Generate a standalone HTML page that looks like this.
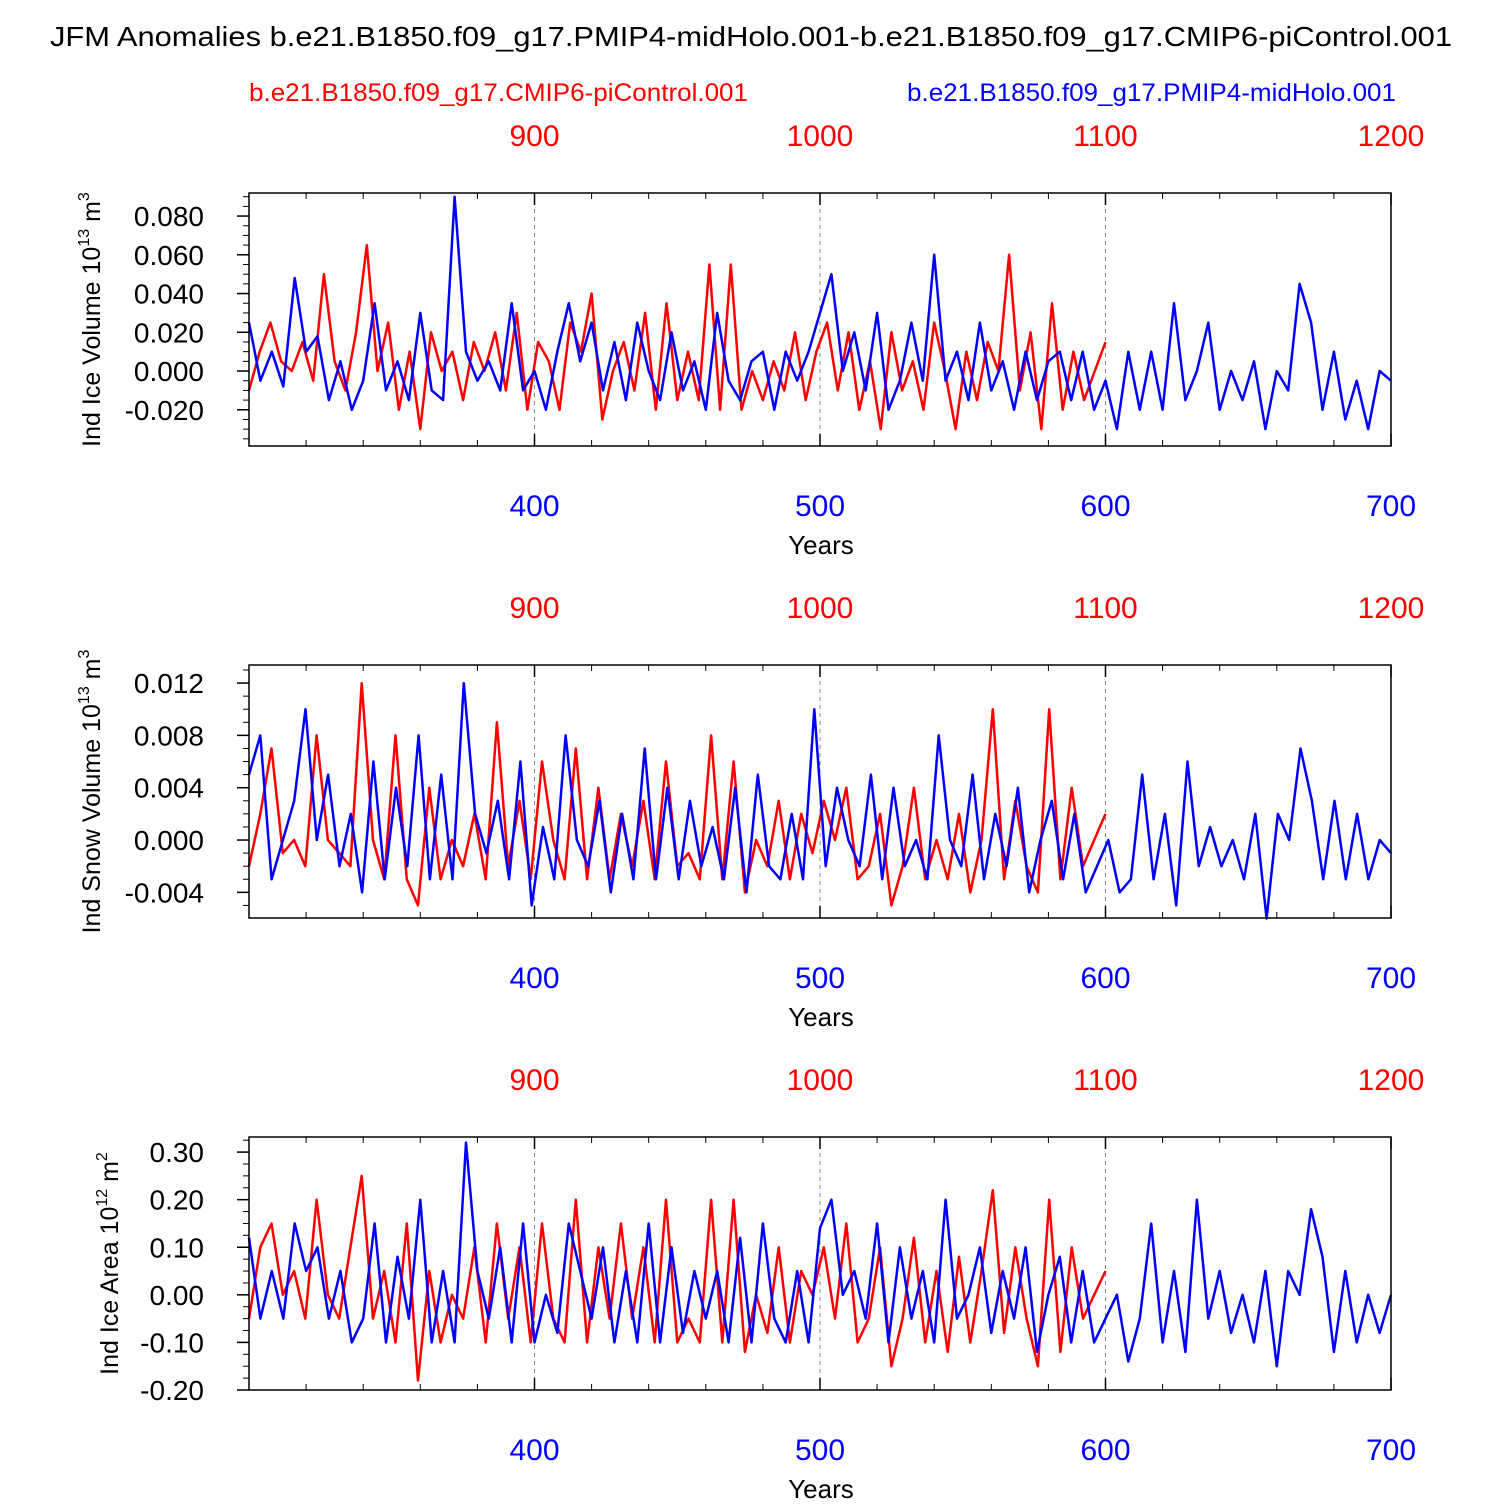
<!DOCTYPE html>
<html><head><meta charset="utf-8"><style>
body{margin:0;background:#fff;}
svg text{font-family:"Liberation Sans",sans-serif;}
</style></head><body>
<svg id="chart" width="1500" height="1500" xmlns="http://www.w3.org/2000/svg">
<text x="50" y="46" font-size="28" textLength="1402" lengthAdjust="spacingAndGlyphs">JFM Anomalies b.e21.B1850.f09_g17.PMIP4-midHolo.001-b.e21.B1850.f09_g17.CMIP6-piControl.001</text>
<text x="249" y="101" font-size="25" fill="#f00" textLength="499" lengthAdjust="spacingAndGlyphs">b.e21.B1850.f09_g17.CMIP6-piControl.001</text>
<text x="907" y="101" font-size="25" fill="#00f" textLength="489" lengthAdjust="spacingAndGlyphs">b.e21.B1850.f09_g17.PMIP4-midHolo.001</text>
</svg>
<script>
const blueVol=[25,-5,10,-8,48,10,18,-15,5,-20,-5,35,-10,5,-15,30,-10,-15,90,10,-5,5,-10,35,-10,0,-20,10,35,5,25,-10,15,-15,25,0,-15,20,-10,5,-20,30,-5,-15,5,10,-20,10,-5,10,30,50,0,20,-10,30,-20,-5,25,-5,60,-5,10,-15,25,-10,5,-20,10,-15,5,10,-15,10,-20,-5,-30,10,-20,10,-20,35,-15,0,25,-20,0,-15,5,-30,0,-10,45,25,-20,10,-25,-5,-30,0,-5];
const redVol=[-10,10,25,5,0,15,-5,50,5,-10,20,65,0,25,-20,10,-30,20,0,10,-15,15,0,20,-10,30,-20,15,5,-20,25,10,40,-25,0,15,-10,30,-20,35,-15,10,-15,55,-20,55,-20,0,-15,5,-10,20,-15,10,25,-10,20,-20,5,-30,20,-10,5,-20,25,0,-30,10,-15,15,0,60,-10,20,-30,35,-20,10,-15,0,15];
const blueSnow=[5,8,-3,0,3,10,0,5,-2,2,-4,6,-3,4,-2,8,-3,5,-3,12,2,-1,3,-3,6,-5,1,-3,8,0,-2,3,-4,2,-3,7,-3,4,-3,3,-2,1,-3,4,-4,5,-2,-3,2,-3,10,-2,4,0,-2,5,-3,4,-2,0,-3,8,0,-2,5,-3,2,-2,4,-4,0,3,-3,2,-4,-2,0,-4,-3,5,-3,2,-5,6,-2,1,-2,0,-3,2,-6,2,0,7,3,-3,3,-3,2,-3,0,-1];
const redSnow=[-2,2,7,-1,0,-2,8,0,-1,-2,12,0,-3,8,-3,-5,4,-3,0,-2,2,-3,9,-2,3,-3,6,0,-3,7,-3,4,-3,2,-2,3,-3,6,-2,-1,-3,8,-3,6,-4,0,-2,3,-3,2,-1,3,0,4,-3,-2,2,-5,-2,4,-3,0,-3,2,-4,0,10,-3,3,-2,-4,10,-3,4,-2,0,2];
const blueArea=[12,-5,5,-5,15,5,10,-5,5,-10,-5,15,-10,8,-5,20,-10,5,-10,32,5,-5,10,-10,15,-10,0,-8,15,5,-5,10,-10,5,-10,15,-10,10,-8,5,-5,5,-10,12,-10,15,-5,-10,5,-10,14,20,0,5,-5,15,-10,10,-5,5,-10,20,-5,0,10,-8,5,-5,10,-12,0,8,-10,5,-10,-5,0,-14,-5,15,-10,5,-12,20,-5,5,-8,0,-10,5,-15,5,0,18,8,-12,5,-10,0,-8,0];
const redArea=[-5,10,15,0,5,-5,20,0,-5,10,25,-5,5,-10,15,-18,5,-10,0,-5,10,-10,15,-5,10,-10,15,-5,-10,20,-10,10,-5,15,-5,10,-10,20,-10,-5,-10,20,-10,20,-12,0,-8,10,-10,5,0,10,-5,15,-10,-5,10,-15,-5,12,-10,5,-12,8,-10,5,22,-8,10,-5,-15,20,-12,10,-5,0,5];
const bottomTicks=[400,500,600,700];
const topTicks=[900,1000,1100,1200];

const svg=document.getElementById('chart');
const NS='http://www.w3.org/2000/svg';
function el(tag,attrs,parent){const e=document.createElementNS(NS,tag);for(const k in attrs)e.setAttribute(k,attrs[k]);(parent||svg).appendChild(e);return e;}
const X0=249,X1=1391;
function xb(yr){return X0+(yr-300)*(X1-X0)/400;}
function xr(yr){return X0+(yr-800)*(X1-X0)/400;}

const panels=[
 {top:193,bot:446,vmin:-0.0387,vmax:0.0919,scale:0.001,blue:blueVol,red:redVol,ticks:[-0.02,0,0.02,0.04,0.06,0.08],dec:3,minor:0.005,label:'Ind Ice Volume 10',exp:'13',unit:' m',uexp:'3',name:'ice-volume',tx:100},
 {top:665,bot:918,vmin:-0.00596,vmax:0.01338,scale:0.001,blue:blueSnow,red:redSnow,ticks:[-0.004,0,0.004,0.008,0.012],dec:3,minor:0.001,label:'Ind Snow Volume 10',exp:'13',unit:' m',uexp:'3',name:'snow-volume',tx:100},
 {top:1137,bot:1390,vmin:-0.2,vmax:0.3317,scale:0.01,blue:blueArea,red:redArea,ticks:[-0.2,-0.1,0,0.1,0.2,0.3],dec:2,minor:0.025,label:'Ind Ice Area 10',exp:'12',unit:' m',uexp:'2',name:'ice-area',tx:118}
];
panels.forEach(p=>{
 const g=el('g',{});
 
 
 const y=v=>p.bot-(v-p.vmin)*(p.bot-p.top)/(p.vmax-p.vmin);
 [400,500,600].forEach(t=>{const l=el('line',{x1:xb(t),x2:xb(t),y1:p.top,y2:p.bot,stroke:'#888','stroke-dasharray':'4,4','stroke-width':1},g);});
 function path(arr,xf,start,col,nm){
  const n=arr.length;const span=(nm==='blue')?400:300;
  const d=arr.map((v,i)=>(i?'L':'M')+xf(start+i*span/(n-1)).toFixed(1)+','+y(v*p.scale).toFixed(1)).join('');
  const pa=el('path',{d:d,fill:'none',stroke:col,'stroke-width':2.5,'stroke-linejoin':'round'},g);
  
  
 }
 path(p.red,xr,800,'#f00','red');
 path(p.blue,xb,300,'#00f','blue');
 const fr=el('rect',{x:X0,y:p.top,width:X1-X0,height:p.bot-p.top,fill:'none',stroke:'#000','stroke-width':1.5},g);
 
 
 for(let v=Math.ceil(p.vmin/p.minor)*p.minor;v<=p.vmax;v+=p.minor){el('line',{x1:X0,x2:X0-6,y1:y(v),y2:y(v),stroke:'#000'},g);}
 p.ticks.forEach(v=>{
  el('line',{x1:X0,x2:X0-12,y1:y(v),y2:y(v),stroke:'#000','stroke-width':1.5},g);
  const t=el('text',{x:204,y:y(v)+10,'font-size':28,'text-anchor':'end'},g);
  t.textContent=v.toFixed(p.dec);
  
  
 });
 for(let yr=320;yr<700;yr+=20){el('line',{x1:xb(yr),x2:xb(yr),y1:p.bot,y2:p.bot-6,stroke:'#000'},g);el('line',{x1:xb(yr),x2:xb(yr),y1:p.top,y2:p.top+6,stroke:'#000'},g);}
 bottomTicks.forEach(t=>{
  el('line',{x1:xb(t),x2:xb(t),y1:p.bot,y2:p.bot-12,stroke:'#000','stroke-width':1.5},g);
  el('line',{x1:xb(t),x2:xb(t),y1:p.top,y2:p.top+12,stroke:'#000','stroke-width':1.5},g);
  const tx=el('text',{x:xb(t),y:p.bot+70,'font-size':30,'text-anchor':'middle',fill:'#00f'},g);
  tx.textContent=t;
  
  
 });
 topTicks.forEach(t=>{
  const tx=el('text',{x:xr(t),y:p.top-47,'font-size':30,'text-anchor':'middle',fill:'#f00'},g);
  tx.textContent=t;
  
  
 });
 const xt=el('text',{x:821,y:p.bot+108,'font-size':26,'text-anchor':'middle'},g);
 xt.textContent='Years';
 
 
 const cy=(p.top+p.bot)/2;
 const yt=el('text',{x:0,y:0,'font-size':25,'text-anchor':'middle',transform:'translate('+p.tx+','+cy+') rotate(-90)'},g);
 
 
 yt.appendChild(document.createTextNode(p.label));
 const s1=el('tspan',{'font-size':16,dy:-11},yt);s1.textContent=p.exp;
 const s2=el('tspan',{dy:11},yt);s2.textContent=p.unit;
 const s3=el('tspan',{'font-size':16,dy:-11},yt);s3.textContent=p.uexp;
});
</script>
</body></html>
